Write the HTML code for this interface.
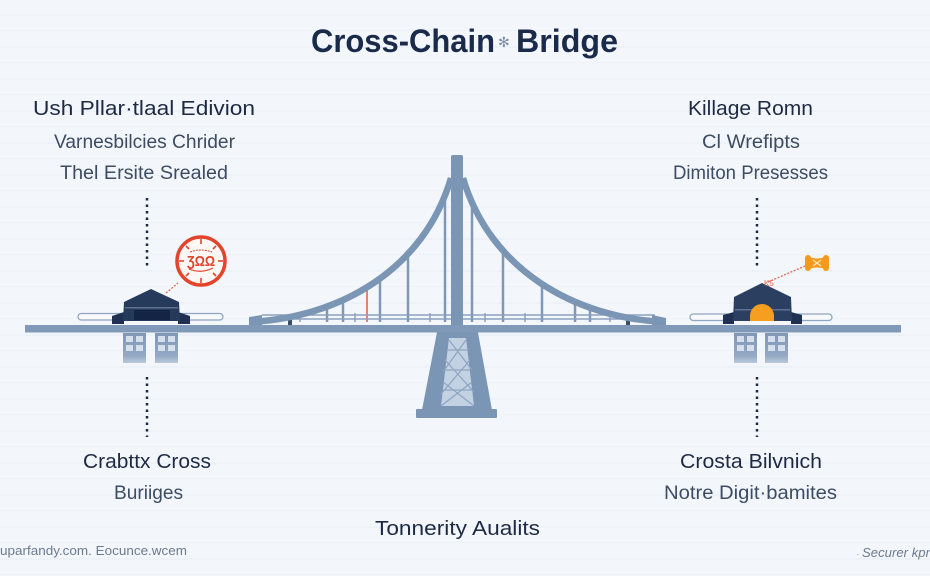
<!DOCTYPE html>
<html>
<head>
<meta charset="utf-8">
<style>
  html,body{margin:0;padding:0;background:#f2f6fa;}
  body{width:930px;height:576px;overflow:hidden;}
  svg{display:block;}
  text{font-family:"Liberation Sans","DejaVu Sans",sans-serif;}
</style>
</head>
<body>
<svg width="930" height="576" viewBox="0 0 930 576" xmlns="http://www.w3.org/2000/svg">
  <defs>
    <pattern id="stripes" width="930" height="32" patternUnits="userSpaceOnUse">
      <rect x="0" y="0" width="930" height="32" fill="#f3f7fb"/>
      <rect x="0" y="14" width="930" height="2" fill="#edf2f8"/>
      <rect x="0" y="30" width="930" height="1" fill="#eff3f9"/>
    </pattern>
    <linearGradient id="fade" x1="0" y1="0" x2="0" y2="1">
      <stop offset="0" stop-color="#8197b6"/>
      <stop offset="0.75" stop-color="#93a8c4"/>
      <stop offset="1" stop-color="#b9c8da"/>
    </linearGradient>
    <clipPath id="underCable">
      <path d="M249,322 C339,318 424,270 451,178 L463,178 C490,270 575,318 665,322 L665,330 L249,330 Z"/>
    </clipPath>
  </defs>

  <rect width="930" height="576" fill="url(#stripes)"/>

  <!-- Title -->
  <text x="311" y="52" font-size="32" font-weight="bold" fill="#1a2a4a" textLength="184" lengthAdjust="spacingAndGlyphs">Cross-Chain</text>
  <text x="498" y="47" font-size="14" fill="#7d8ca2" font-family="DejaVu Sans, sans-serif">✻</text>
  <text x="516" y="52" font-size="32" font-weight="bold" fill="#1a2a4a" textLength="102" lengthAdjust="spacingAndGlyphs">Bridge</text>

  <!-- Left top text -->
  <text x="33" y="115" font-size="20" fill="#1e2a44" textLength="222" lengthAdjust="spacingAndGlyphs">Ush Pllar·tlaal Edivion</text>
  <text x="54" y="148" font-size="19" fill="#3d4c63" textLength="181" lengthAdjust="spacingAndGlyphs">Varnesbilcies Chrider</text>
  <text x="60" y="179" font-size="19" fill="#3d4c63" textLength="168" lengthAdjust="spacingAndGlyphs">Thel Ersite Srealed</text>

  <!-- Right top text -->
  <text x="688" y="115" font-size="20" fill="#1e2a44" textLength="125" lengthAdjust="spacingAndGlyphs">Killage Romn</text>
  <text x="702" y="148" font-size="19" fill="#3d4c63" textLength="98" lengthAdjust="spacingAndGlyphs">Cl Wrefipts</text>
  <text x="673" y="179" font-size="19" fill="#3d4c63" textLength="155" lengthAdjust="spacingAndGlyphs">Dimiton Presesses</text>

  <!-- Dotted connector lines -->
  <g stroke="#1e2a44" stroke-width="2.5" stroke-dasharray="2.5,4">
    <line x1="147" y1="198" x2="147" y2="267"/>
    <line x1="147" y1="377" x2="147" y2="437"/>
    <line x1="757" y1="198" x2="757" y2="267"/>
    <line x1="757" y1="377" x2="757" y2="437"/>
  </g>

  <!-- Hangers -->
  <g clip-path="url(#underCable)" stroke="#7f98b7" stroke-width="2.5">
    <line x1="327" y1="150" x2="327" y2="322"/>
    <line x1="343" y1="150" x2="343" y2="322"/>
    <line x1="380" y1="150" x2="380" y2="322"/>
    <line x1="408" y1="150" x2="408" y2="322"/>
    <line x1="445" y1="150" x2="445" y2="322"/>
    <line x1="472" y1="150" x2="472" y2="322"/>
    <line x1="503" y1="150" x2="503" y2="322"/>
    <line x1="542" y1="150" x2="542" y2="322"/>
    <line x1="575" y1="150" x2="575" y2="322"/>
    <line x1="590" y1="150" x2="590" y2="322"/>
    <line x1="367" y1="150" x2="367" y2="322" stroke="#e0664c" stroke-width="1.6"/>
  </g>

  <!-- Handrail -->
  <g stroke="#8ba1be" stroke-width="1.5" fill="none">
    <line x1="262" y1="315" x2="655" y2="315"/>
    <line x1="262" y1="319" x2="655" y2="319"/>
    <line x1="300" y1="313" x2="300" y2="322"/>
    <line x1="355" y1="313" x2="355" y2="322"/>
    <line x1="430" y1="313" x2="430" y2="322"/>
    <line x1="485" y1="313" x2="485" y2="322"/>
    <line x1="525" y1="313" x2="525" y2="322"/>
    <line x1="610" y1="313" x2="610" y2="322"/>
  </g>
  <rect x="288" y="318" width="4" height="7" fill="#3a4c68"/>
  <rect x="626" y="318" width="4" height="7" fill="#3a4c68"/>

  <!-- Cables -->
  <path d="M249,322 C339,318 424,270 451,178" stroke="#7b95b5" stroke-width="6.5" fill="none"/>
  <path d="M463,178 C490,270 575,318 665,322" stroke="#7b95b5" stroke-width="6.5" fill="none"/>
  <polygon points="249,317 262,315 262,326 249,326" fill="#7b95b5"/>
  <polygon points="652,315 666,318 666,326 652,326" fill="#7b95b5"/>

  <!-- Tower -->
  <rect x="451" y="155" width="12" height="175" rx="2" fill="#7b95b5"/>

  <!-- Pier -->
  <polygon points="438,327 477,327 492,410 422,410" fill="#7b95b5"/>
  <rect x="416" y="409" width="81" height="9" rx="1" fill="#7b95b5"/>
  <polygon points="449,338 466,338 474,406 441,406" fill="#c3d2e3"/>
  <g stroke="#8ea5c2" stroke-width="1.2" fill="none">
    <path d="M449,340 L472,370 M466,340 L443,372 M445,360 L474,392 M470,360 L441,394 M443,382 L474,406 M472,382 L441,406"/>
    <path d="M447,350 L468,350 M445,370 L470,370 M443,390 L472,390"/>
  </g>

  <!-- Deck -->
  <rect x="25" y="325" width="876" height="7.5" fill="#8199b8"/>

  <!-- LEFT BUILDING -->
  <rect x="78" y="313.5" width="50" height="6.5" rx="3.2" fill="#f7f9fc" stroke="#8fa5c0" stroke-width="1.3"/>
  <rect x="175" y="313.5" width="48" height="6.5" rx="3.2" fill="#f7f9fc" stroke="#8fa5c0" stroke-width="1.3"/>
  <path d="M112,324 L112,316 L124,312 L124,324 Z" fill="#1f3052"/>
  <path d="M190,324 L190,316 L178,312 L178,324 Z" fill="#1f3052"/>
  <polygon points="151,289 124,302 123,321 180,321 179,302" fill="#263a5c"/>
  <rect x="125" y="307" width="53" height="1.5" fill="#5d7090"/>
  <rect x="134" y="310" width="36" height="10" fill="#132444"/>
  <g>
    <rect x="123" y="333" width="23" height="30" fill="url(#fade)"/>
    <rect x="155" y="333" width="23" height="30" fill="url(#fade)"/>
    <g fill="#e3eaf3" opacity="0.85">
      <rect x="126" y="336" width="7" height="6"/><rect x="136" y="336" width="7" height="6"/>
      <rect x="126" y="345" width="7" height="6"/><rect x="136" y="345" width="7" height="6"/>
      <rect x="158" y="336" width="7" height="6"/><rect x="168" y="336" width="7" height="6"/>
      <rect x="158" y="345" width="7" height="6"/><rect x="168" y="345" width="7" height="6"/>
    </g>
  </g>
  <line x1="166" y1="293" x2="178" y2="283" stroke="#e06a50" stroke-width="1.3" stroke-dasharray="2,1.5"/>
  <circle cx="201" cy="261" r="24" fill="#fdf7f5" stroke="#e2452c" stroke-width="3.5"/>
  <g stroke="#e2452c" stroke-width="1.6">
    <line x1="201" y1="239" x2="201" y2="244"/>
    <line x1="201" y1="278" x2="201" y2="283"/>
    <line x1="179" y1="261" x2="184" y2="261"/>
    <line x1="218" y1="261" x2="223" y2="261"/>
    <line x1="186" y1="246" x2="189" y2="249"/>
    <line x1="213" y1="273" x2="216" y2="276"/>
    <line x1="216" y1="246" x2="213" y2="249"/>
    <line x1="186" y1="276" x2="189" y2="273"/>
  </g>
  <text x="187" y="266" font-size="15" font-weight="bold" fill="#e2452c" textLength="28" lengthAdjust="spacingAndGlyphs">ƷΩΩ</text>
  <path d="M189,269 Q201,274 213,268" stroke="#e2452c" stroke-width="1.2" fill="none"/>
  <path d="M190,252 Q201,248 212,252" stroke="#e2452c" stroke-width="1" fill="none" stroke-dasharray="2,1"/>

  <!-- RIGHT BUILDING -->
  <rect x="690" y="314" width="40" height="6.5" rx="3.2" fill="#f7f9fc" stroke="#8fa5c0" stroke-width="1.3"/>
  <rect x="795" y="314" width="37" height="6.5" rx="3.2" fill="#f7f9fc" stroke="#8fa5c0" stroke-width="1.3"/>
  <path d="M723,324 L723,315 L734,312 L734,324 Z" fill="#1f3052"/>
  <path d="M802,324 L802,315 L791,312 L791,324 Z" fill="#1f3052"/>
  <polygon points="762,283 734,297 733,321 792,321 791,297" fill="#2b3f60"/>
  <rect x="735" y="309" width="55" height="1.5" fill="#5d7090"/>
  <path d="M750,321 L750,316 A12,12 0 0 1 774,316 L774,321 Z" fill="#f59e1f"/>
  <g>
    <rect x="734" y="333" width="23" height="30" fill="url(#fade)"/>
    <rect x="765" y="333" width="23" height="30" fill="url(#fade)"/>
    <g fill="#e3eaf3" opacity="0.85">
      <rect x="737" y="336" width="7" height="6"/><rect x="747" y="336" width="7" height="6"/>
      <rect x="737" y="345" width="7" height="6"/><rect x="747" y="345" width="7" height="6"/>
      <rect x="768" y="336" width="7" height="6"/><rect x="778" y="336" width="7" height="6"/>
      <rect x="768" y="345" width="7" height="6"/><rect x="778" y="345" width="7" height="6"/>
    </g>
  </g>
  <line x1="768" y1="282" x2="805" y2="266" stroke="#e06a50" stroke-width="1.3" stroke-dasharray="2,1.5"/>
  <text x="764" y="286" font-size="8" fill="#e06a50">K5</text>
  <rect x="805" y="255" width="6" height="16" rx="3" fill="#f59a1c"/>
  <rect x="823" y="255" width="6" height="16" rx="3" fill="#f59a1c"/>
  <path d="M809,257 Q817,260 825,257 L825,269 Q817,266 809,269 Z" fill="#f59a1c"/>
  <path d="M813,260 L821,266 M821,260 L813,266" stroke="#fde3b8" stroke-width="1.3"/>

  <!-- Bottom text -->
  <text x="83" y="468" font-size="20" fill="#1e2a44" textLength="128" lengthAdjust="spacingAndGlyphs">Crabttx Cross</text>
  <text x="114" y="499" font-size="19" fill="#3d4c63" textLength="69" lengthAdjust="spacingAndGlyphs">Buriiges</text>
  <text x="680" y="468" font-size="20" fill="#1e2a44" textLength="142" lengthAdjust="spacingAndGlyphs">Crosta Bilvnich</text>
  <text x="664" y="499" font-size="19" fill="#3d4c63" textLength="173" lengthAdjust="spacingAndGlyphs">Notre Digit·bamites</text>
  <text x="375" y="535" font-size="20" fill="#1e2a44" textLength="165" lengthAdjust="spacingAndGlyphs">Tonnerity Aualits</text>

  <!-- Footer -->
  <text x="0" y="555" font-size="13" fill="#6b7a90" textLength="187" lengthAdjust="spacingAndGlyphs">uparfandy.com. Eocunce.wcem</text>
  <text x="856" y="557" font-size="10" fill="#9aa7b8">·</text>
  <text x="862" y="557" font-size="13" font-style="italic" fill="#6b7a90" textLength="68" lengthAdjust="spacingAndGlyphs">Securer kpr</text>
</svg>
</body>
</html>
